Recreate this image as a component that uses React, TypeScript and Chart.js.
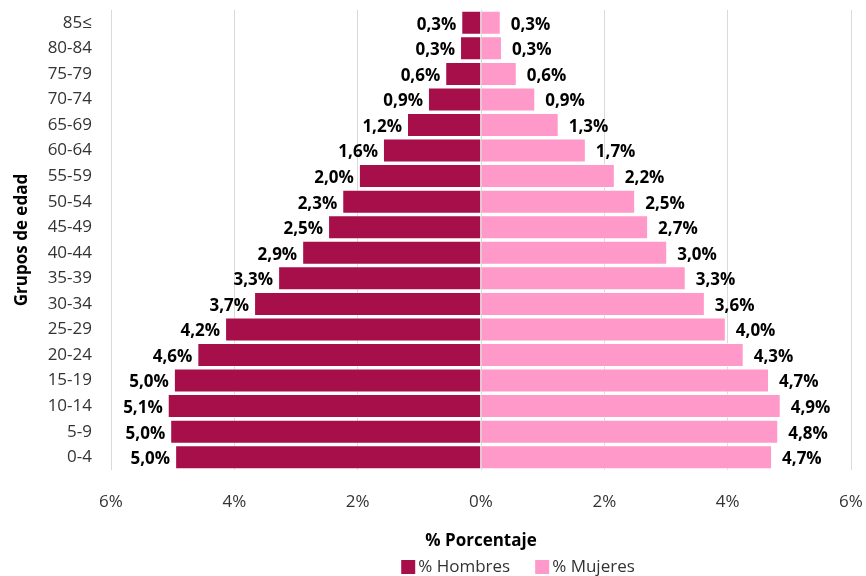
import React, { useEffect, useRef } from "react";
import { Chart, registerables } from "chart.js";

Chart.register(...registerables);

const ageGroups = ["85≤", "80-84", "75-79", "70-74", "65-69", "60-64", "55-59", "50-54", "45-49", "40-44", "35-39", "30-34", "25-29", "20-24", "15-19", "10-14", "5-9", "0-4"];
const menValues = [0.32, 0.34, 0.58, 0.86, 1.2, 1.59, 1.98, 2.25, 2.48, 2.9, 3.29, 3.68, 4.15, 4.6, 4.98, 5.08, 5.04, 4.96];
const womenValues = [0.32, 0.34, 0.58, 0.88, 1.26, 1.7, 2.17, 2.5, 2.71, 3.02, 3.32, 3.63, 3.97, 4.26, 4.67, 4.86, 4.82, 4.72];
const seriesNames = ["% Hombres", "% Mujeres"];
const seriesColors = ["#A70F4B", "#FF99C9"];
const xMin = -6;
const xMax = 6;
const xStep = 2;

const FONT = '"Open Sans", "Noto Sans", "DejaVu Sans", sans-serif';

const fmt = (v: number) => Math.abs(v).toFixed(1).replace(".", ",") + "%";

const labelPlugin = {
  id: "barLabels",
  afterDatasetsDraw(chart: any) {
    const ctx = chart.ctx;
    ctx.save();
    ctx.font = `bold 17px ${FONT}`;
    ctx.fillStyle = "#000";
    ctx.textBaseline = "middle";
    chart.data.datasets.forEach((ds: any, di: number) => {
      const meta = chart.getDatasetMeta(di);
      meta.data.forEach((el: any, i: number) => {
        const v = ds.data[i] as number;
        const text = fmt(v);
        if (v < 0) {
          ctx.textAlign = "right";
          ctx.fillText(text, el.x - 5, el.y + 2);
        } else {
          ctx.textAlign = "left";
          ctx.fillText(text, el.x + 10, el.y + 2);
        }
      });
    });
    ctx.restore();
  },
};

const legendPlugin = {
  id: "customLegend",
  afterDraw(chart: any) {
    const ctx = chart.ctx;
    ctx.save();
    ctx.font = `17px ${FONT}`;
    ctx.textBaseline = "middle";
    ctx.textAlign = "left";
    const box = 14;
    const gapBoxText = 3;
    const gapItems = 25;
    const widths = seriesNames.map((n) => ctx.measureText(n).width);
    const total = widths.reduce((a, b) => a + b, 0) + seriesNames.length * (box + gapBoxText) + gapItems * (seriesNames.length - 1);
    let x = 518 - total / 2;
    const y = 567;
    seriesNames.forEach((n, i) => {
      ctx.fillStyle = seriesColors[i];
      ctx.fillRect(x, y - box / 2, box, box);
      x += box + gapBoxText;
      ctx.fillStyle = "#333";
      ctx.fillText(n, x, y);
      x += widths[i] + gapItems;
    });
    ctx.restore();
  },
};

export default function App() {
  const ref = useRef<HTMLCanvasElement | null>(null);
  useEffect(() => {
    if (!ref.current) return;
    const chart = new Chart(ref.current, {
      type: "bar",
      data: {
        labels: ageGroups,
        datasets: [
          {
            label: seriesNames[0],
            data: menValues.map((v) => -v),
            backgroundColor: seriesColors[0],
            borderColor: "rgba(255,255,255,0.6)",
            borderWidth: 1,
            categoryPercentage: 0.94,
            barPercentage: 1,
          },
          {
            label: seriesNames[1],
            data: womenValues,
            backgroundColor: seriesColors[1],
            borderColor: "rgba(255,255,255,0.6)",
            borderWidth: 1,
            categoryPercentage: 0.94,
            barPercentage: 1,
          },
        ],
      },
      options: {
        indexAxis: "y",
        responsive: false,
        animation: false,
        layout: { padding: { top: 10, right: 15, bottom: 23, left: 0 } },
        plugins: {
          legend: { display: false },
          tooltip: { enabled: false },
        },
        scales: {
          x: {
            stacked: true,
            min: xMin,
            max: xMax,
            ticks: {
              stepSize: xStep,
              padding: 22,
              color: "#333",
              font: { family: FONT, size: 17 },
              maxRotation: 0,
              callback: (v: any) => Math.abs(Number(v)) + "%",
            },
            grid: { color: "#d9d9d9", lineWidth: 1, drawTicks: false },
            border: { display: false },
            title: {
              display: true,
              text: "% Porcentaje",
              color: "#000",
              font: { family: FONT, size: 17, weight: "bold" },
              padding: { top: 18, bottom: 2 },
            },
            afterFit: (scale: any) => {
              scale.paddingLeft = 0;
              scale.paddingRight = 0;
              scale.height = 83;
            },
          },
          y: {
            stacked: true,
            ticks: {
              padding: 19,
              color: "#333",
              font: { family: FONT, size: 17 },
              autoSkip: false,
            },
            grid: { display: false, drawTicks: false },
            border: { display: false },
            title: {
              display: true,
              text: "Grupos de edad",
              color: "#000",
              font: { family: FONT, size: 17, weight: "bold" },
              padding: { top: 12, bottom: 0 },
            },
            afterFit: (scale: any) => {
              scale.width = 111;
              scale.paddingTop = 0;
              scale.paddingBottom = 0;
            },
          },
        },
      } as any,
      plugins: [labelPlugin, legendPlugin],
    });
    return () => chart.destroy();
  }, []);
  return (
    <div style={{ position: "absolute", left: 0, top: 0, width: 866, height: 576, background: "#fff" }}>
      <canvas ref={ref} width={866} height={576} style={{ display: "block" }} />
    </div>
  );
}
